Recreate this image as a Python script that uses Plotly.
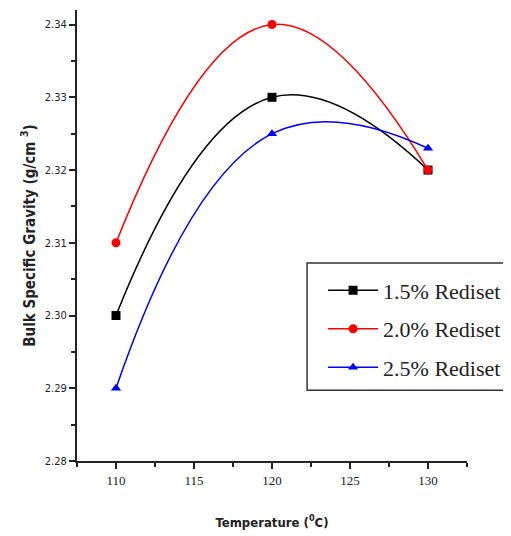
import plotly.graph_objects as go

# --- dane
temperature = [110, 120, 130]
rediset_15 = [2.300, 2.330, 2.320]
rediset_20 = [2.310, 2.340, 2.320]
rediset_25 = [2.290, 2.325, 2.323]

series = [
    ("1.5% Rediset", rediset_15, "black", "square"),
    ("2.0% Rediset", rediset_20, "red", "circle"),
    ("2.5% Rediset", rediset_25, "blue", "triangle-up"),
]

narrow = "Liberation Sans Narrow, Arial Narrow, DejaVu Sans Condensed"

fig = go.Figure()

for name, vals, color, symbol in series:
    fig.add_trace(go.Scatter(
        x=temperature,
        y=vals,
        mode="lines+markers",
        name=name,
        legendgroup=name,
        line=dict(color=color, width=1.5, shape="spline", smoothing=1.3),
        marker=dict(color=color, symbol=symbol, size=9),
    ))

# strona ma 8px marginesu body, stąd przesunięte marginesy
fig.update_layout(
    width=511,
    height=536,
    margin=dict(l=69, r=52, t=2, b=83),
    plot_bgcolor="white",
    paper_bgcolor="white",
    showlegend=True,
    legend=dict(
        x=0.631, y=0.425, xanchor="left", yanchor="top",
        bgcolor="rgba(0,0,0,0)", borderwidth=0,
        font=dict(family="Liberation Serif, Times New Roman, serif", size=22, color="#222"),
        itemwidth=50,
        traceorder="grouped",
        tracegroupgap=7,
    ),
)

# ramka legendy (wychodzi poza prawą krawędź, jak w oryginale)
fig.add_shape(
    type="rect", xref="paper", yref="paper",
    x0=0.59, x1=1.2, y0=0.157, y1=0.439,
    line=dict(color="#333", width=1.5),
)

fig.update_xaxes(
    range=[107.5, 132.5],
    tickvals=[110, 115, 120, 125, 130],
    ticks="outside", ticklen=6, tickwidth=2, tickcolor="#222",
    minor=dict(ticks="outside", ticklen=4, tickwidth=2, dtick=2.5, tickcolor="#222"),
    showline=True, linewidth=2, linecolor="#222",
    showgrid=False, zeroline=False, automargin=False,
    tickfont=dict(family="Liberation Serif, serif", size=13, color="#222"),
    title=dict(text="<b>Temperature (<sup>0</sup>C)</b>",
               font=dict(family=narrow, size=13, color="#222"), standoff=31),
)

fig.update_yaxes(
    range=[2.28, 2.342],
    tickvals=[2.28, 2.29, 2.30, 2.31, 2.32, 2.33, 2.34],
    tickformat=".2f",
    ticks="outside", ticklen=6, tickwidth=2, tickcolor="#222",
    minor=dict(ticks="outside", ticklen=4, tickwidth=2, dtick=0.005, tickcolor="#222"),
    showline=True, linewidth=2, linecolor="#222",
    showgrid=False, zeroline=False, automargin=False,
    tickfont=dict(family=narrow, size=11, color="#222"),
    title=dict(text="<b>Bulk Specific Gravity (g/cm <sup>3</sup>)</b>",
               font=dict(family=narrow, size=15, color="#222"), standoff=6),
)

fig.write_html("out.html")
